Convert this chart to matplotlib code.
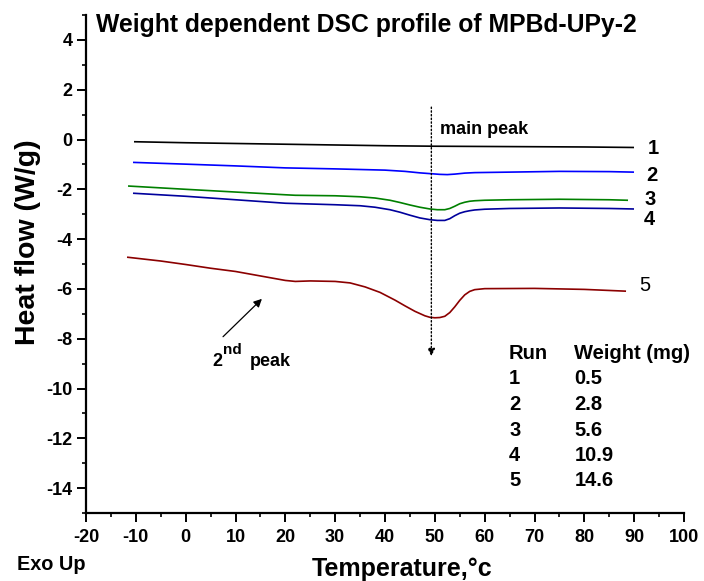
import numpy as np
import matplotlib
matplotlib.use('Agg')
import matplotlib.pyplot as plt
from matplotlib.ticker import MultipleLocator

plt.rcParams['font.family'] = ['Liberation Sans', 'DejaVu Sans']
plt.rcParams['font.weight'] = 'bold'
plt.rcParams['axes.unicode_minus'] = False

# run 1 .. run 5
x1 = [-10.2, 0, 10, 20, 30, 40, 50, 60, 70, 80, 89.8]
y1 = [-0.09, -0.13, -0.16, -0.19, -0.22, -0.25, -0.27, -0.28, -0.29, -0.30, -0.32]

x2 = [-10.4, 0, 10, 20, 30, 40, 44, 47, 49, 51, 52.5, 54, 56, 58, 65, 75, 85, 89.8]
y2 = [-0.92, -0.99, -1.06, -1.14, -1.18, -1.23, -1.28, -1.34, -1.37, -1.40, -1.41,
      -1.39, -1.35, -1.33, -1.31, -1.28, -1.29, -1.31]

x3 = [-11.4, 0, 10, 20, 22, 30, 35, 38, 41, 43, 45, 47, 49, 50.5, 52, 53, 54, 55,
      56, 57, 58, 60, 65, 75, 85, 88.6]
y3 = [-1.87, -2.0, -2.11, -2.22, -2.24, -2.26, -2.30, -2.35, -2.44, -2.53, -2.63,
      -2.72, -2.79, -2.82, -2.82, -2.77, -2.68, -2.58, -2.52, -2.48, -2.46, -2.44,
      -2.42, -2.40, -2.42, -2.44]

x4 = [-10.4, 0, 10, 20, 30, 35, 38, 41, 43, 45, 47, 49, 50.5, 52, 53, 54, 55, 56,
      57, 58, 60, 65, 75, 85, 89.8]
y4 = [-2.16, -2.28, -2.42, -2.56, -2.62, -2.66, -2.72, -2.82, -2.92, -3.04, -3.15,
      -3.22, -3.25, -3.25, -3.18, -3.06, -2.96, -2.90, -2.86, -2.83, -2.80, -2.77,
      -2.75, -2.77, -2.79]

x5 = [-11.6, -5, 0, 5, 10, 15, 20, 22, 25, 30, 33, 36, 39, 42, 44, 46, 48, 49,
      50, 51, 52, 53, 54, 55, 56, 57, 58, 60, 70, 80, 88.2]
y5 = [-4.73, -4.88, -5.02, -5.17, -5.30, -5.48, -5.66, -5.70, -5.68, -5.70, -5.76,
      -5.92, -6.14, -6.45, -6.68, -6.90, -7.08, -7.14, -7.16, -7.15, -7.10, -6.95,
      -6.72, -6.46, -6.24, -6.10, -6.03, -5.99, -5.98, -6.02, -6.09]

runs = ['1', '2', '3', '4', '5']
weights = ['0.5', '2.8', '5.6', '10.9', '14.6']
colors = ['black', '#0000ff', '#008000', '#00009c', '#8b0000']

fig = plt.figure(figsize=(7.04, 5.81), dpi=100)
ax = fig.add_axes([86 / 704, 68 / 581, 598 / 704, 498 / 581])

for xs, ys, c in zip([x1, x2, x3, x4, x5], [y1, y2, y3, y4, y5], colors):
    ax.plot(xs, ys, color=c, lw=1.2)

ax.set_xlim(-20, 100)
ax.set_ylim(-15, 5)
ax.xaxis.set_major_locator(MultipleLocator(10))
ax.xaxis.set_minor_locator(MultipleLocator(5))
ax.yaxis.set_major_locator(MultipleLocator(2))
ax.yaxis.set_minor_locator(MultipleLocator(1))
ax.spines['top'].set_visible(False)
ax.spines['right'].set_visible(False)
for s in ['left', 'bottom']:
    ax.spines[s].set_linewidth(1.6)
ax.tick_params(which='major', direction='out', length=6.5, width=1.4, labelsize=13, pad=3)
ax.tick_params(which='minor', direction='out', length=3, width=1.2)
ax.tick_params(axis='x', which='major', pad=5)
for lab in ax.get_xticklabels() + ax.get_yticklabels():
    lab.set_fontweight('bold')

B = dict(fontweight='bold')

# curve numbers
ax.text(92.8, -0.36, '1', fontsize=14.5, ha='left', va='center', **B)
ax.text(92.5, -1.43, '2', fontsize=14.5, ha='left', va='center', **B)
ax.text(92.0, -2.4, '3', fontsize=14.5, ha='left', va='center', **B)
ax.text(92.0, -3.2, '4', fontsize=14.5, ha='left', va='center', **B)
ax.text(91.0, -5.87, '5', fontsize=14.5, ha='left', va='center', fontweight='normal')

# main peak marker
ax.annotate('', xy=(49.3, -8.7), xytext=(49.3, 1.3),
            arrowprops=dict(arrowstyle='-|>', linestyle=':', lw=1, color='k',
                            mutation_scale=11, shrinkA=0, shrinkB=0))
ax.text(51.1, 0.4, 'main peak', fontsize=13, ha='left', va='center', **B)

# second peak
ax.annotate('', xy=(15.3, -6.4), xytext=(7.5, -7.92),
            arrowprops=dict(arrowstyle='-|>', lw=0.9, color='k',
                            mutation_scale=12, shrinkA=0, shrinkB=0))
ax.text(5.4, -9.1, '2', fontsize=13, ha='left', va='baseline', **B)
ax.text(7.4, -8.62, 'nd', fontsize=11, ha='left', va='baseline', **B)
ax.text(12.9, -9.1, 'peak', fontsize=13, ha='left', va='baseline', **B)

# run / weight table
row_y = [-8.58, -9.6, -10.64, -11.68, -12.68, -13.68]
ax.text(64.9, row_y[0], 'Run', fontsize=14.5, ha='left', va='center', **B)
ax.text(78.0, row_y[0], 'Weight (mg)', fontsize=14.5, ha='left', va='center', **B)
for yy, r, w in zip(row_y[1:], runs, weights):
    ax.text(64.9, yy, r, fontsize=14.5, ha='left', va='center', **B)
    ax.text(78.0, yy, w, fontsize=14.5, ha='left', va='center', **B)

fig.text(96 / 704, 1 - 32 / 581, 'Weight dependent DSC profile of MPBd-UPy-2',
         fontsize=17.8, ha='left', va='baseline', **B)
fig.text(402 / 704, 1 - 569 / 581, 'Temperature,°c', fontsize=18, ha='center',
         va='center', **B)
fig.text(28 / 704, 1 - 242.5 / 581, 'Heat flow (W/g)', fontsize=20.5, rotation=90,
         ha='center', va='center', **B)
fig.text(17 / 704, 1 - 565 / 581, 'Exo Up', fontsize=14.3, ha='left', va='center', **B)

fig.savefig('out.png', dpi=100)
